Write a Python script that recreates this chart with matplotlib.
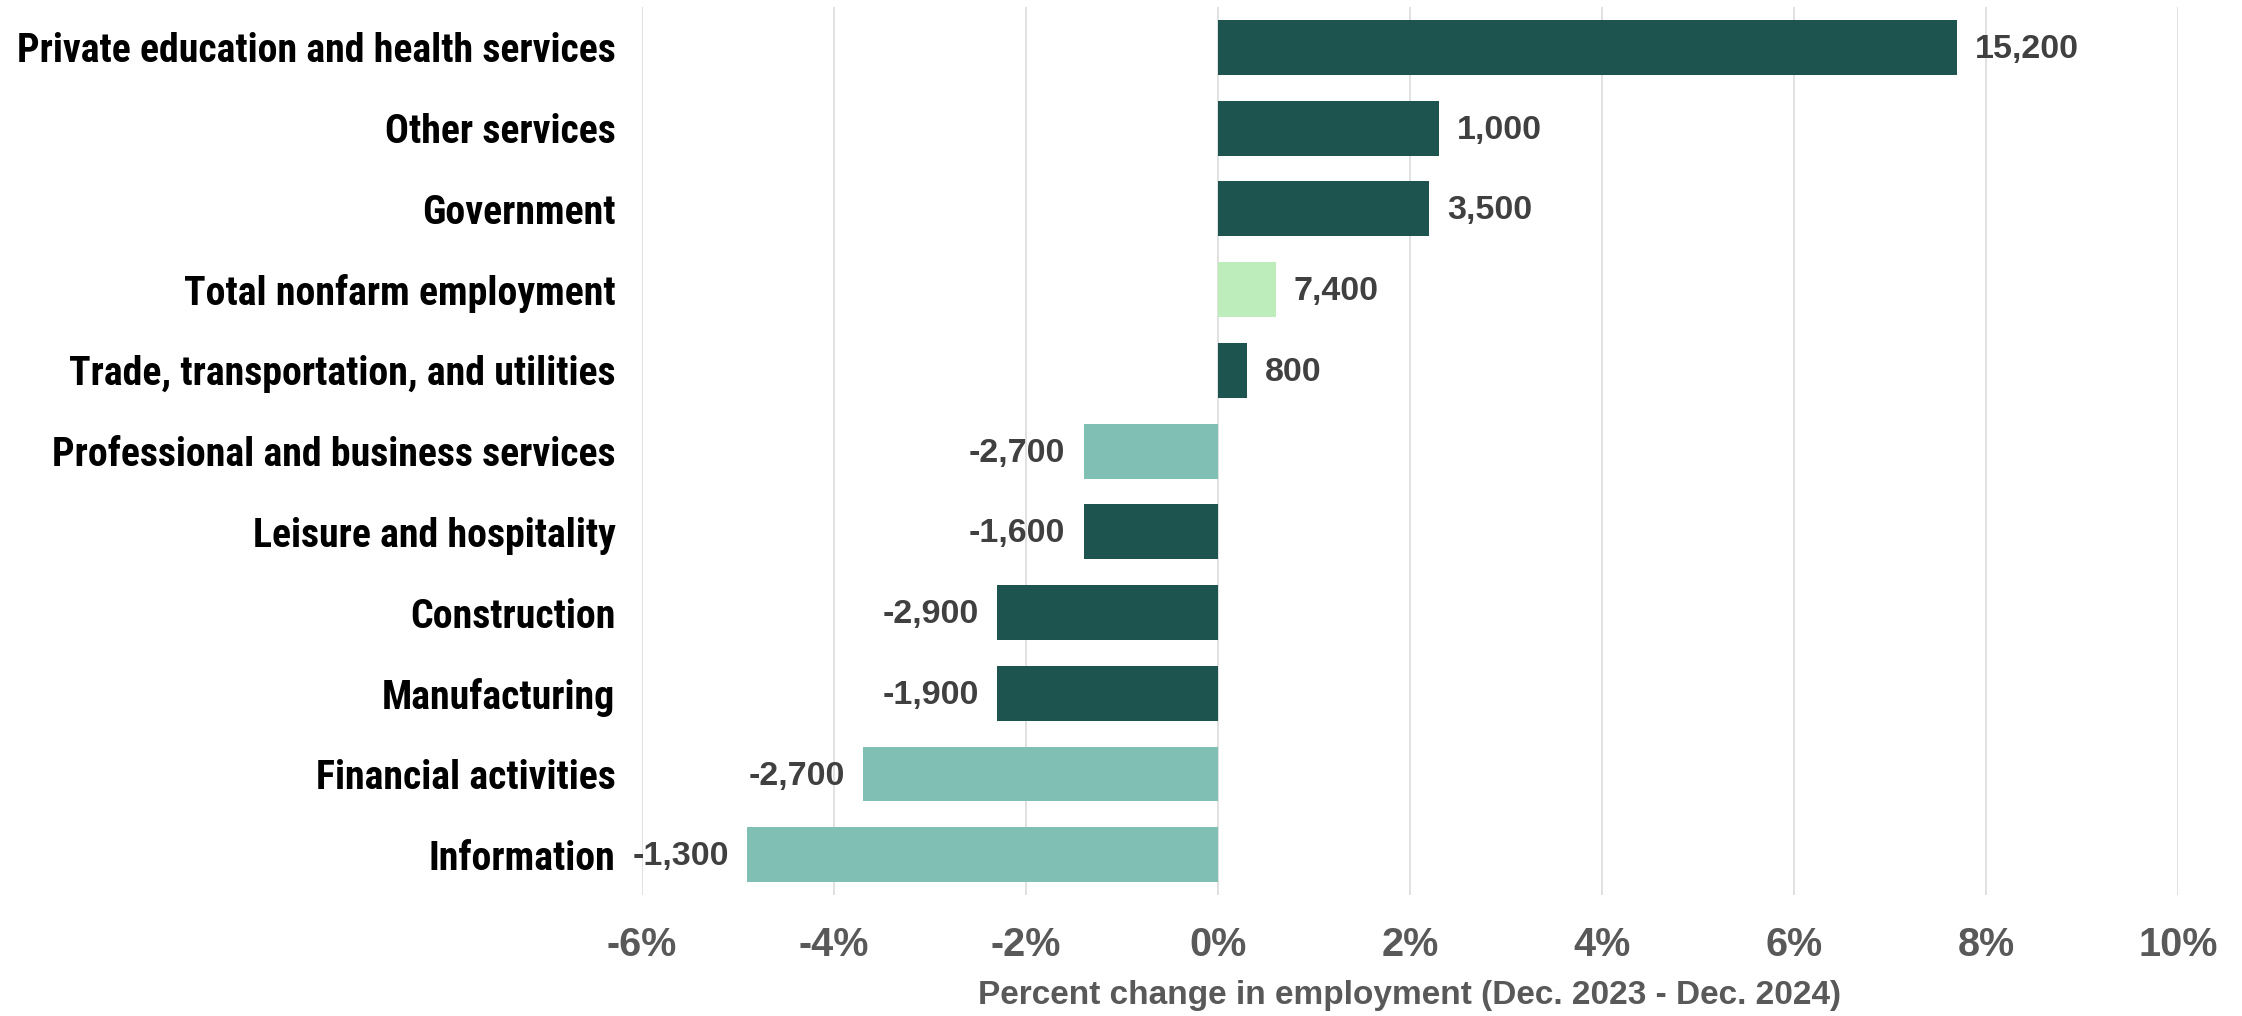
import matplotlib
matplotlib.use("Agg")
import matplotlib.pyplot as plt
from matplotlib import font_manager as fm
from matplotlib.ticker import FuncFormatter

# Industry sectors, top to bottom
sectors = [
    "Private education and health services",
    "Other services",
    "Government",
    "Total nonfarm employment",
    "Trade, transportation, and utilities",
    "Professional and business services",
    "Leisure and hospitality",
    "Construction",
    "Manufacturing",
    "Financial activities",
    "Information",
]
# Percent change in employment, Dec. 2023 - Dec. 2024
pct_change = [7.7, 2.3, 2.2, 0.6, 0.3, -1.4, -1.4, -2.3, -2.3, -3.7, -4.9]
# Net change in jobs shown next to each bar
job_change = [15200, 1000, 3500, 7400, 800, -2700, -1600, -2900, -1900, -2700, -1300]
# Colour group per sector
groups = ["dark", "dark", "dark", "total", "dark", "teal", "dark", "dark", "dark", "teal", "teal"]

palette = {"dark": "#1E5450", "teal": "#80BFB4", "total": "#BDEDBB"}
x_ticks = [-6, -4, -2, 0, 2, 4, 6, 8, 10]

plt.rcParams["font.family"] = ["Liberation Sans", "DejaVu Sans"]


def condensed_font():
    """Return FontProperties kwargs for a condensed bold face if one is installed."""
    for fam in ["Liberation Sans Narrow", "Roboto Condensed", "Open Sans Condensed",
                "Arial Narrow"]:
        try:
            fm.findfont(fm.FontProperties(family=fam, weight="bold"),
                        fallback_to_default=False)
            return {"family": fam}
        except ValueError:
            pass
    path = fm.findfont(fm.FontProperties(family="DejaVu Sans", weight="bold",
                                         stretch="condensed"))
    if "Condensed" in path:
        return {"family": "DejaVu Sans", "fontstretch": "condensed"}
    return {"family": "Liberation Sans"}


fig = plt.figure(figsize=(22.42, 10.16), dpi=100)
ax = fig.add_axes([0.2863, 0.119, 0.6852, 0.8741])

ypos = list(range(len(sectors)))
colors = [palette[g] for g in groups]
ax.barh(ypos, pct_change, height=0.68, color=colors, zorder=3)

for y, v, n in zip(ypos, pct_change, job_change):
    off = 13 if v >= 0 else -13
    ax.annotate(f"{n:,}", xy=(v, y), xytext=(off, -1.5), textcoords="offset points",
                ha="left" if v >= 0 else "right", va="center",
                fontsize=24.5, fontweight="bold", color="#404040", zorder=4)

ax.set_xlim(-6, 10)
ax.set_ylim(len(sectors) - 0.5, -0.5)
ax.set_xticks(x_ticks)
ax.xaxis.set_major_formatter(FuncFormatter(lambda v, p: f"{v:.0f}%"))
ax.set_yticks(ypos)

# Sector labels: condensed bold, sized so the longest one is ~600 px wide
label_font = condensed_font()
ylabels = ax.set_yticklabels(sectors, fontsize=27, fontweight="bold", color="black",
                             **label_font)
renderer = fig.canvas.get_renderer()
widest = max(t.get_window_extent(renderer).width for t in ylabels)
label_size = min(29, 27 * 600 / widest)
for t in ylabels:
    t.set_fontsize(label_size)

for lbl in ax.get_xticklabels():
    lbl.set_fontsize(28.5)
    lbl.set_fontweight("bold")
    lbl.set_color("#595959")

ax.tick_params(axis="x", length=0, pad=22)
ax.tick_params(axis="y", length=0, pad=19)
ax.grid(axis="x", color="#D9D9D9", linewidth=1.1, zorder=0)
ax.set_axisbelow(True)
for s in ax.spines.values():
    s.set_visible(False)

ax.set_xlabel("Percent change in employment (Dec. 2023 - Dec. 2024)",
              fontsize=24, fontweight="bold", color="#595959", labelpad=12)

fig.savefig("out.png", dpi=100, facecolor="white")
